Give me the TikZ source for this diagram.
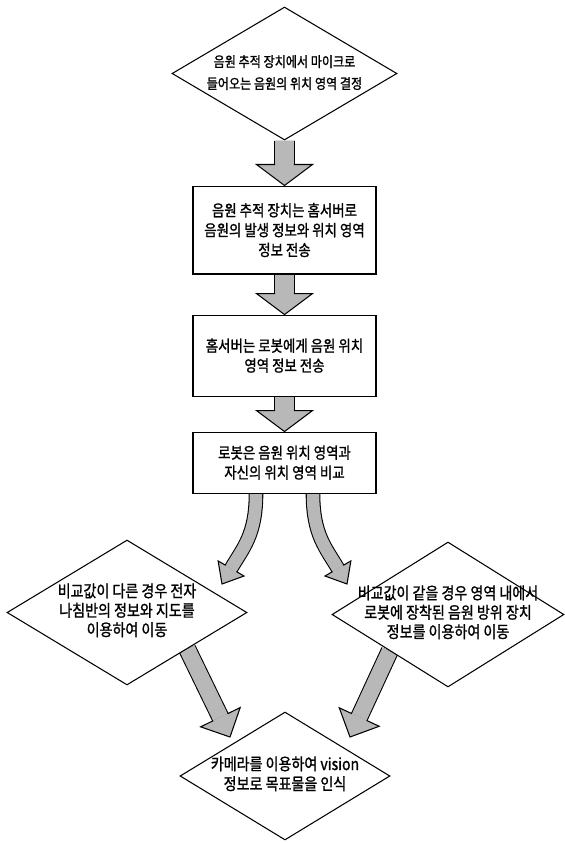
\documentclass[tikz,border=0pt]{standalone}
\usepackage{fontspec}
\newfontfamily\krfont[FakeStretch=0.85, FakeBold=1.2]{Noto Sans CJK KR}
\usepackage{tikz}
\usetikzlibrary{shapes.geometric, positioning, calc, backgrounds}
\definecolor{arrowgray}{gray}{0.72}
\tikzstyle{stepbox} = [draw, line width=0.6pt, fill=white,
    minimum width=3.66cm, align=center, inner sep=0pt,
    font=\krfont\fontsize{9}{11.3}\selectfont]
\tikzstyle{decide} = [draw, diamond, line width=0.6pt, fill=white,
    inner sep=0pt, font=\krfont\fontsize{9.4}{10.8}\selectfont]
% text of a diamond, kept out of the shape size
\newcommand{\dtext}[1]{\makebox[0pt]{\begin{tabular}{@{}c@{}}#1\end{tabular}}}
% shaft, head width, head length, from, control 1, control 2, to
\newcommand{\fatarrow}[7]{%
  \coordinate (fb) at ($(#7)!#3!(#6)$);
  \draw[draw=arrowgray, line width=#1,
    preaction={draw=black, line width=#1+1.2pt}] (#4) .. controls (#5) and (#6) .. (fb);
  \filldraw[fill=arrowgray, draw=black, line width=0.6pt, line join=miter]
    ($(fb)!#1/2!90:(#7)$) -- ($(fb)!#2/2!90:(#7)$) -- (#7)
    -- ($(fb)!#2/2!-90:(#7)$) -- ($(fb)!#1/2!-90:(#7)$);
}

\begin{document}
\begin{tikzpicture}[x=0.02cm, y=-0.02cm]
  \useasboundingbox (0,0) rectangle (565,843);
  % Step 1: source region
  \node[decide, font=\krfont\fontsize{8.1}{12.5}\selectfont,
    minimum width=4.5cm, minimum height=2.66cm] (find) at (284.5,73.5)
    {\dtext{음원 추적 장치에서 마이크로\\들어오는 음원의 위치 영역 결정}};

  % Steps 2-4: server and robot
  \node[stepbox, below=0.9cm of find, minimum height=1.76cm] (send)
    {음원 추적 장치는 홈서버로\\음원의 발생 정보와 위치 영역\\정보 전송};
  \node[stepbox, below=0.8cm of send, minimum height=1.62cm] (relay)
    {홈서버는 로봇에게 음원 위치\\영역 정보 전송};
  \node[stepbox, below=0.7cm of relay, minimum height=1.22cm] (cmp)
    {로봇은 음원 위치 영역과\\자신의 위치 영역 비교};

  % Branches
  \node[decide, minimum width=4.8cm, minimum height=2.9cm] (diff) at (127,612.5)
    {\dtext{비교값이 다른 경우 전자\\나침반의 정보와 지도를\\이용하여 이동}};
  \node[decide, minimum width=4.64cm, minimum height=2.9cm] (same) at (448,614.5)
    {\dtext{비교값이 같을 경우 영역 내에서\\로봇에 장착된 음원 방위 장치\\정보를 이용하여 이동}};

  % Goal
  \node[decide, font=\krfont\fontsize{9.4}{11.3}\selectfont,
    minimum width=4.2cm, minimum height=2.56cm] (goal) at (285,776)
    {\dtext{카메라를 이용하여 vision\\정보로 목표물을 인식}};

  \coordinate (difftip) at (222,584);
  \coordinate (sametip) at (347,584);
  \coordinate (goaltipl) at (230,737);
  \coordinate (goaltipr) at (350,737);

  % Arrows
  \begin{scope}[on background layer]
    \fatarrow{0.38cm}{1.12cm}{0.42cm}{find.south}{find.south}{find.south}{send.north}
    \fatarrow{0.38cm}{1.12cm}{0.42cm}{send.south}{send.south}{send.south}{relay.north}
    \fatarrow{0.38cm}{1.12cm}{0.42cm}{relay.south}{relay.south}{relay.south}{cmp.north}
    \fatarrow{0.25cm}{0.6cm}{0.36cm}{$(cmp.south)+(-28.5,0)$}{256,535}{243,548}{difftip}
    \fatarrow{0.25cm}{0.6cm}{0.36cm}{$(cmp.south)+(28.5,0)$}{313,535}{326,548}{sametip}
    \fatarrow{0.32cm}{0.88cm}{0.44cm}{diff.south east}{diff.south east}{diff.south east}{goaltipl}
    \fatarrow{0.32cm}{0.88cm}{0.44cm}{same.south west}{same.south west}{same.south west}{goaltipr}
  \end{scope}
\end{tikzpicture}
\end{document}
